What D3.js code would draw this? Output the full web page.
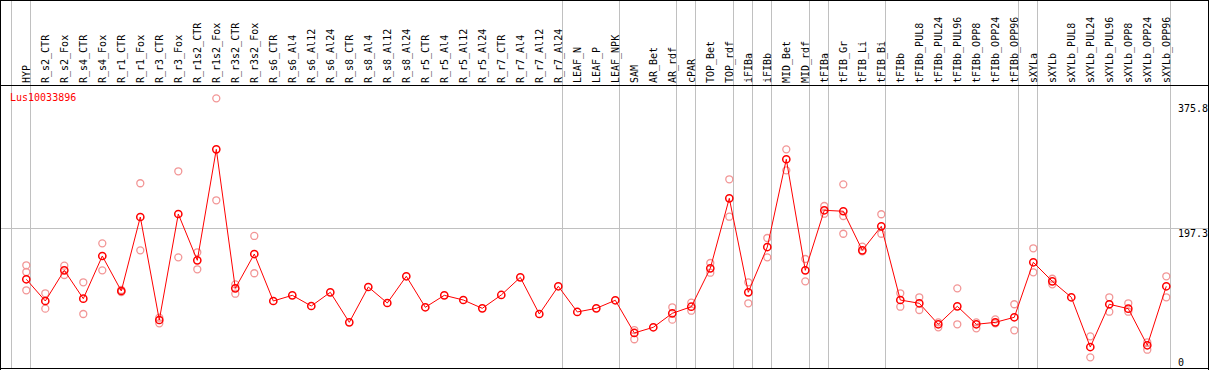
<!DOCTYPE html>
<meta charset="utf-8">
<style>
body { margin: 0; background: #fff; }
svg { display: block; }
text { font-family: 'DejaVu Sans Mono', monospace; font-size: 10px; }
.grid line { stroke: #c0c0c0; stroke-width: 1px; shape-rendering: crispEdges; }
.frame line { stroke: #000; stroke-width: 1px; shape-rendering: crispEdges; }
</style>
<body>
<svg width="1209" height="370"></svg>
<script src="https://d3js.org/d3.v7.min.js"></script>
<script>

var geneName = "Lus10033896";

var categories = [
  "HYP", "R_s2_CTR", "R_s2_Fox", "R_s4_CTR", "R_s4_Fox", "R_r1_CTR", "R_r1_Fox",
  "R_r3_CTR", "R_r3_Fox", "R_r1s2_CTR", "R_r1s2_Fox", "R_r3s2_CTR", "R_r3s2_Fox",
  "R_s6_CTR", "R_s6_Al4", "R_s6_Al12", "R_s6_Al24", "R_s8_CTR", "R_s8_Al4",
  "R_s8_Al12", "R_s8_Al24", "R_r5_CTR", "R_r5_Al4", "R_r5_Al12", "R_r5_Al24",
  "R_r7_CTR", "R_r7_Al4", "R_r7_Al12", "R_r7_Al24", "LEAF_N", "LEAF_P", "LEAF_NPK",
  "SAM", "AR_Bet", "AR_rdf", "cPAR", "TOP_Bet", "TOP_rdf", "iFIBa", "iFIBb",
  "MID_Bet", "MID_rdf", "tFIBa", "tFIB_Gr", "tFIB_Li", "tFIB_Bi", "tFIBb",
  "tFIBb_PUL8", "tFIBb_PUL24", "tFIBb_PUL96", "tFIBb_OPP8", "tFIBb_OPP24", "tFIBb_OPP96",
  "sXYLa", "sXYLb", "sXYLb_PUL8", "sXYLb_PUL24", "sXYLb_PUL96", "sXYLb_OPP8",
  "sXYLb_OPP24", "sXYLb_OPP96"
];

// mean expression per sample
var means = [
  123.9, 92.9, 136.7, 96.2, 157.2, 107.2, 212.9,
  65.7, 217.2, 151.0, 309.6, 111.0, 160.0,
  92.9, 101.0, 85.7, 105.3, 62.4, 112.9,
  90.0, 128.2, 83.9, 101.0, 94.3, 82.4,
  101.5, 126.7, 74.3, 113.9, 77.2, 82.4, 93.9,
  47.2, 55.3, 75.3, 84.7, 139.6, 239.6, 105.3, 170.0,
  295.4, 136.7, 222.5, 221.1, 165.3, 199.6, 94.3,
  89.6, 59.6, 85.3, 59.6, 62.4, 69.6,
  148.2, 121.0, 98.2, 27.1, 88.2, 81.9,
  29.6, 113.9
];

// individual replicates (same order as categories)
var replicates = [
  [143.9, 134.3, 108.2], [103.9, 81.9], [143.3, 130.0], [119.6, 74.3], [175.3, 136.7],
  [108.6, 105.7], [261.1, 165.3], [69.0, 61.0], [278.2, 155.3], [162.5, 138.2],
  [382.5, 236.8], [116.7, 103.3], [185.8, 132.5],
  [], [], [], [], [], [], [], [], [], [], [], [], [], [], [], [], [], [], [],
  [51.4, 38.2], [], [83.9, 66.2], [90.5, 79.0], [147.2, 133.3], [266.8, 213.3],
  [119.6, 89.6], [182.9, 155.3], [309.6, 279.6], [152.9, 121.0], [228.6, 217.6],
  [259.6, 214.3, 189.0], [170.5, 163.9], [216.8, 189.0], [103.9, 84.7],
  [98.2, 80.0], [62.4, 55.3], [111.0, 59.6], [62.4, 53.9], [66.7, 61.0], [88.2, 51.0],
  [168.2, 133.9], [124.7, 116.7], [], [42.4, 12.4], [98.2, 77.6], [89.6, 77.6],
  [33.9, 23.3], [128.2, 98.2]
];

// last sample of each group, a separator is drawn after it
var groupEnds = ["HYP", "R_r7_Al24", "LEAF_NPK", "AR_rdf", "cPAR", "TOP_rdf", "iFIBa",
  "iFIBb", "MID_rdf", "tFIBa", "tFIB_Bi", "tFIBb_OPP96", "sXYLa", "sXYLb_OPP96"];

var yTicks = [375.8, 197.3, 0];

(function() {
  var svg = d3.select("svg"),
      width = +svg.attr("width"),
      height = +svg.attr("height");

  var headerY = 85.5, bottomY = 368.5;

  var x = d3.scalePoint()
      .domain(categories)
      .range([26.3, 1166.3]);

  var y = d3.scaleLinear()
      .domain([0, 375.8])
      .range([366, 103]);

  var grid = svg.append("g").attr("class", "grid");

  var sepX = [x(categories[0]) - x.step() + 3.5].concat(groupEnds.map(function(c) { return x(c) + 3.5; }));
  grid.selectAll("line.v")
    .data(sepX)
    .enter().append("line")
      .attr("class", "v")
      .attr("x1", function(d) { return Math.round(d) + 0.5; })
      .attr("x2", function(d) { return Math.round(d) + 0.5; })
      .attr("y1", 0)
      .attr("y2", bottomY);

  grid.append("line")
      .attr("x1", 0).attr("x2", width)
      .attr("y1", Math.round(y(197.3)) + 0.5)
      .attr("y2", Math.round(y(197.3)) + 0.5);

  var frame = svg.append("g").attr("class", "frame");
  frame.append("line").attr("x1", 0).attr("x2", width).attr("y1", 0.5).attr("y2", 0.5);
  frame.append("line").attr("x1", 0).attr("x2", width).attr("y1", headerY).attr("y2", headerY);
  frame.append("line").attr("x1", 0).attr("x2", width).attr("y1", bottomY).attr("y2", bottomY);
  frame.append("line").attr("x1", 0.5).attr("x2", 0.5).attr("y1", 0).attr("y2", height);
  frame.append("line").attr("x1", width - 0.5).attr("x2", width - 0.5).attr("y1", 0).attr("y2", height);

  // sample labels, rotated
  svg.append("g")
    .selectAll("text")
    .data(categories)
    .enter().append("text")
      .attr("transform", function(d) { return "translate(" + (x(d) + 3.7) + ",83) rotate(-90)"; })
      .attr("fill", "#000")
      .text(function(d) { return d; });

  // value labels on the right
  svg.append("g")
    .selectAll("text")
    .data(yTicks)
    .enter().append("text")
      .attr("x", 1178)
      .attr("y", function(d) { return d === 0 ? y(d) : y(d) + 9; })
      .attr("fill", "#000")
      .text(function(d) { return d; });

  svg.append("text")
      .attr("x", 10)
      .attr("y", 101)
      .attr("fill", "#ff0000")
      .text(geneName);

  var repPts = [];
  categories.forEach(function(c, i) {
    replicates[i].forEach(function(v) { repPts.push({cat: c, value: v}); });
  });

  svg.append("g")
    .selectAll("circle")
    .data(repPts)
    .enter().append("circle")
      .attr("cx", function(d) { return x(d.cat); })
      .attr("cy", function(d) { return y(d.value); })
      .attr("r", 3.5)
      .attr("fill", "none")
      .attr("stroke", "#f29696")
      .attr("stroke-width", 1.3);

  var line = d3.line()
      .x(function(d, i) { return x(categories[i]); })
      .y(function(d) { return y(d); });

  svg.append("path")
      .datum(means)
      .attr("d", line)
      .attr("fill", "none")
      .attr("stroke", "#ff0000")
      .attr("stroke-width", 1);

  svg.append("g")
    .selectAll("circle")
    .data(means)
    .enter().append("circle")
      .attr("cx", function(d, i) { return x(categories[i]); })
      .attr("cy", function(d) { return y(d); })
      .attr("r", 3.6)
      .attr("fill", "none")
      .attr("stroke", "#ff0000")
      .attr("stroke-width", 1.5);
})();

</script>
</body>
